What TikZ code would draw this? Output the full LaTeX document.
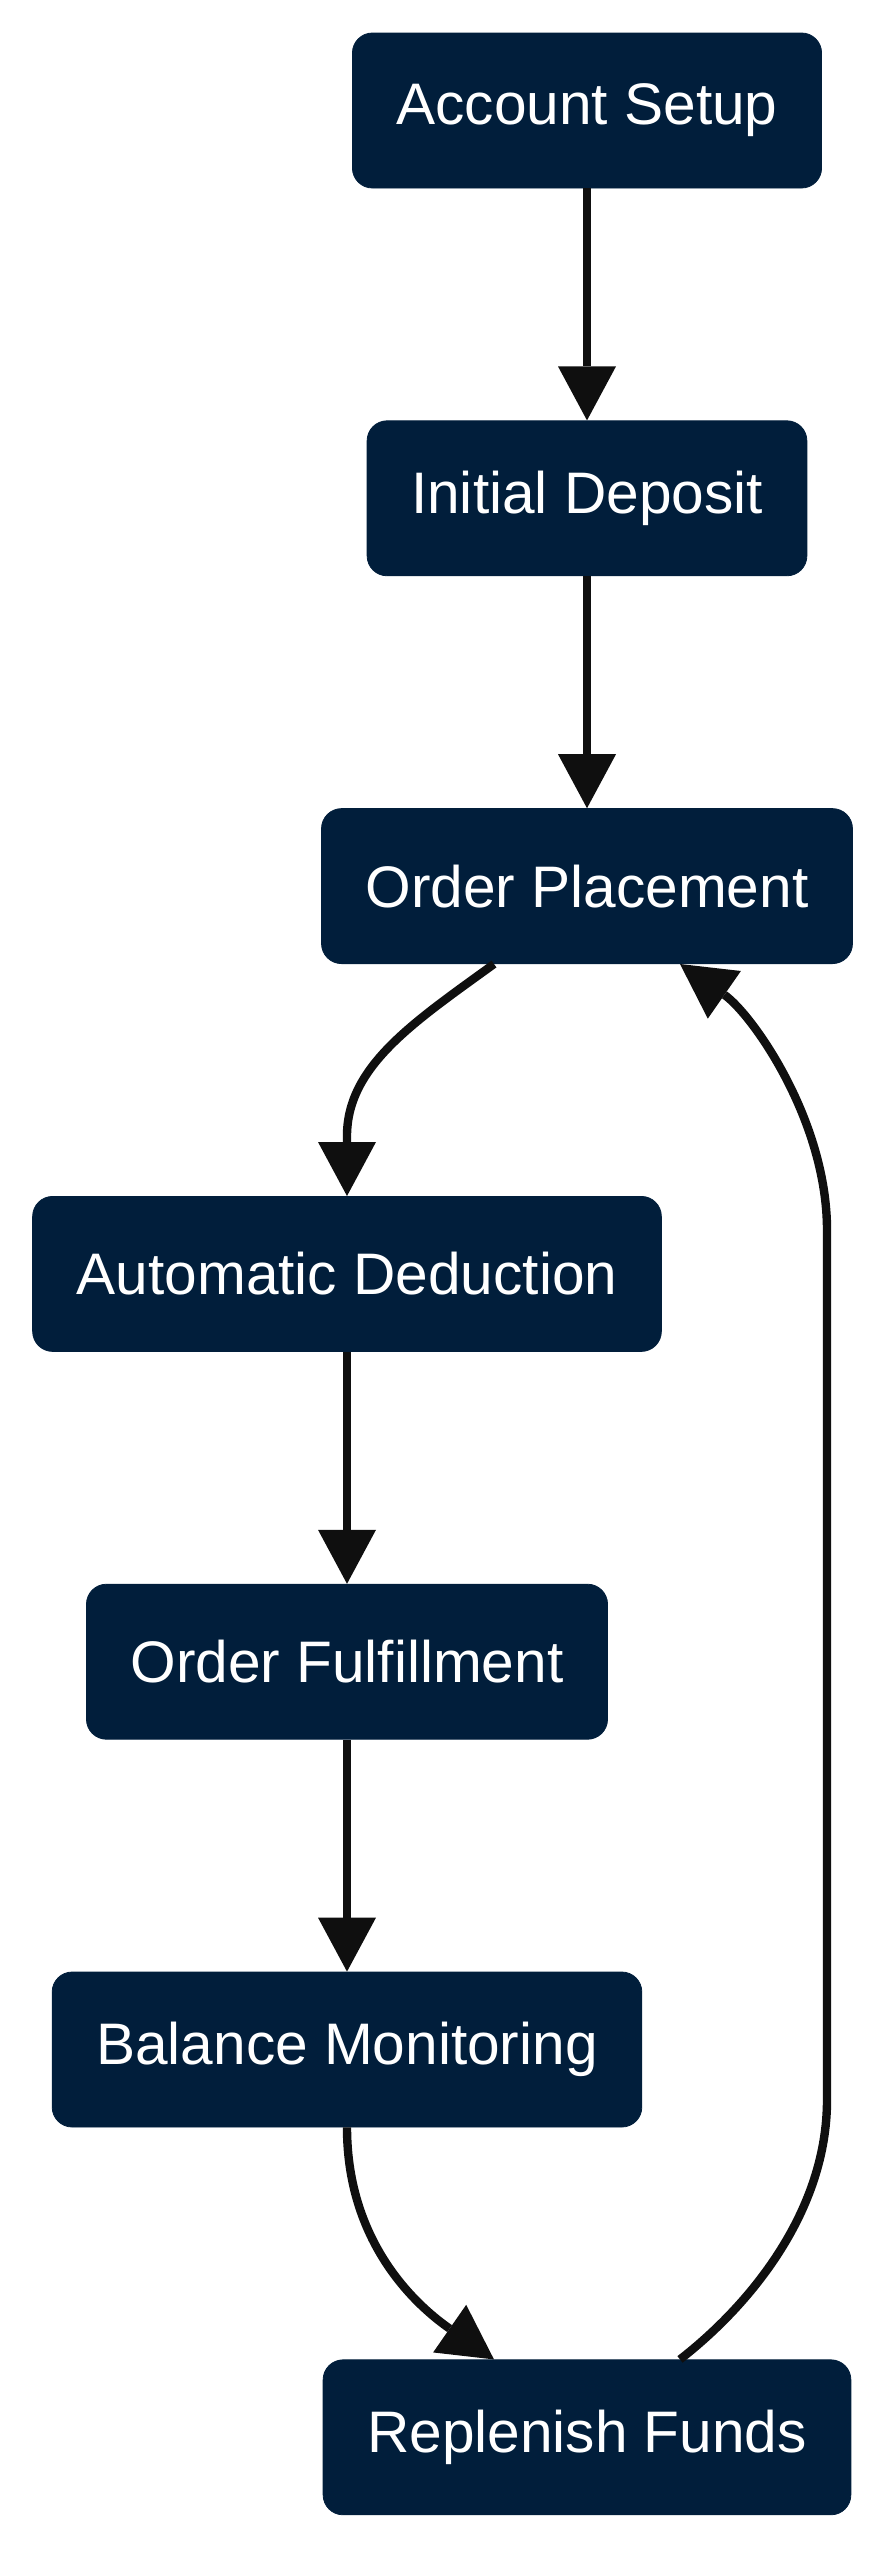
\documentclass[tikz,border=0pt]{standalone}
\usepackage{fontspec}
\setmainfont{Liberation Sans}
\usetikzlibrary{positioning,arrows.meta}
\definecolor{navy}{HTML}{011E3B}
\definecolor{ink}{HTML}{0F0F0F}

\begin{document}
\begin{tikzpicture}[stage/.style={draw=navy,fill=navy,text=white,rounded corners=10pt,
      minimum height=77.5pt,inner xsep=22pt,inner ysep=4pt,font=\fontsize{29.3}{35}\selectfont},
    flow/.style={draw=ink,line width=4.2pt,-{Triangle[length=27pt,width=29pt,line width=0pt]}},
    node distance=116pt]

    \useasboundingbox (0,0) rectangle (445.5pt,-1280pt);

    \node[stage] (setup) at (293.5pt,-55.25pt) {Account Setup};
    \node[stage,below=of setup] (deposit) {Initial Deposit};
    \node[stage,below=of deposit] (place) {Order Placement};
    \node[stage,below=of place,xshift=-120pt] (deduct) {Automatic Deduction};
    \node[stage,below=of deduct] (fulfil) {Order Fulfillment};
    \node[stage,below=of fulfil] (monitor) {Balance Monitoring};
    \node[stage,below=of monitor,xshift=120pt] (refill) {Replenish Funds};

    \coordinate (rA) at (413.5pt,-1050pt);
    \coordinate (rB) at (413.5pt,-615pt);

    \draw[flow] (setup) -- (deposit);
    \draw[flow] (deposit) -- (place);
    \draw[flow] ([xshift=-46.5pt]place.south) .. controls +(-40pt,-29pt) and +(0pt,35pt) .. ([yshift=30pt]deduct.north) -- (deduct.north);
    \draw[flow] (deduct) -- (fulfil);
    \draw[flow] (fulfil) -- (monitor);
    \draw[flow] (monitor.south) .. controls +(0pt,-60pt) and +(-36pt,25pt) .. ([xshift=-46.5pt]refill.north);
    \draw[flow] ([xshift=46.5pt]refill.north) .. controls +(36pt,28pt) and +(0pt,-55pt) .. (rA) -- (rB)
      .. controls +(0pt,55pt) and +(36pt,-25pt) .. ([xshift=46.5pt]place.south);
  \end{tikzpicture}
\end{document}
